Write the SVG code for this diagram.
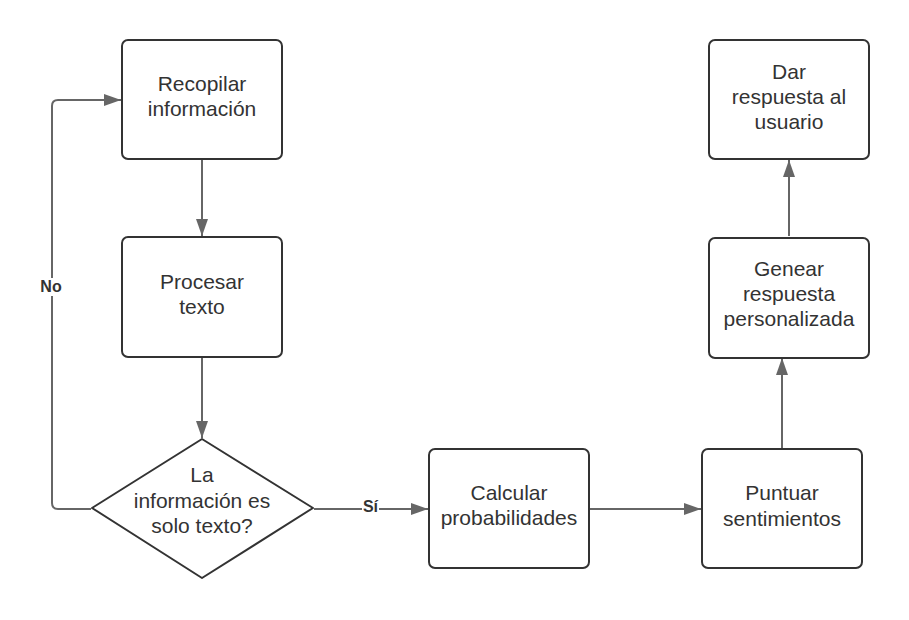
<svg xmlns="http://www.w3.org/2000/svg" width="909" height="620" viewBox="0 0 909 620">
<defs>
<style>
.box{fill:#fff;stroke:#333;stroke-width:2}
.t{font-family:"Liberation Sans",Arial,sans-serif;font-size:21px;fill:#333;text-anchor:middle}
.c{fill:none;stroke:#666;stroke-width:2}
.lbl{font-family:"Liberation Sans",Arial,sans-serif;font-size:16px;font-weight:bold;fill:#333;text-anchor:middle}
</style>
<marker id="ah" markerWidth="18" markerHeight="12" refX="17" refY="6" orient="auto" markerUnits="userSpaceOnUse">
<path d="M0,0 L17,6 L0,12 Z" fill="#666"/>
</marker>
</defs>
<rect width="909" height="620" fill="#fff"/>
<g id="connectors">
<path class="c" d="M202,160 V236" marker-end="url(#ah)"/>
<path class="c" d="M202,358 V438" marker-end="url(#ah)"/>
<path class="c" d="M314,509 H428" marker-end="url(#ah)"/>
<path class="c" d="M590,509 H701" marker-end="url(#ah)"/>
<path class="c" d="M782,448 V358" marker-end="url(#ah)"/>
<path class="c" d="M789,236 V160" marker-end="url(#ah)"/>
<path class="c" d="M91,509 H58 Q52,509 52,503 V106 Q52,100 58,100 H121" marker-end="url(#ah)"/>
<rect x="39" y="278" width="25" height="18" fill="#fff"/>
<text class="lbl" x="51" y="292">No</text>
<rect x="362" y="500" width="17" height="16" fill="#fff"/>
<text class="lbl" x="370.5" y="512">Sí</text>
</g>
<g id="recopilar">
<rect class="box" x="122" y="40" width="160" height="119" rx="6"/>
<text class="t" x="202" y="91">Recopilar</text>
<text class="t" x="202" y="116">información</text>
</g>
<g id="procesar">
<rect class="box" x="122" y="237" width="160" height="120" rx="6"/>
<text class="t" x="202" y="289">Procesar</text>
<text class="t" x="202" y="314">texto</text>
</g>
<g id="decision">
<path class="box" d="M202,439 L313,508 L202,578 L92,508 Z" stroke-linejoin="round"/>
<text class="t" x="202" y="482">La</text>
<text class="t" x="202" y="507.5">información es</text>
<text class="t" x="202" y="533">solo texto?</text>
</g>
<g id="calcular">
<rect class="box" x="429" y="449" width="160" height="119" rx="6"/>
<text class="t" x="509" y="500">Calcular</text>
<text class="t" x="509" y="525">probabilidades</text>
</g>
<g id="puntuar">
<rect class="box" x="702" y="449" width="160" height="119" rx="6"/>
<text class="t" x="782" y="500">Puntuar</text>
<text class="t" x="782" y="526">sentimientos</text>
</g>
<g id="genear">
<rect class="box" x="709" y="238" width="160" height="120" rx="6"/>
<text class="t" x="789" y="276">Genear</text>
<text class="t" x="789" y="301">respuesta</text>
<text class="t" x="789" y="326">personalizada</text>
</g>
<g id="dar">
<rect class="box" x="709" y="40" width="160" height="119" rx="6"/>
<text class="t" x="789" y="79">Dar</text>
<text class="t" x="789" y="104">respuesta al</text>
<text class="t" x="789" y="129">usuario</text>
</g>
</svg>
